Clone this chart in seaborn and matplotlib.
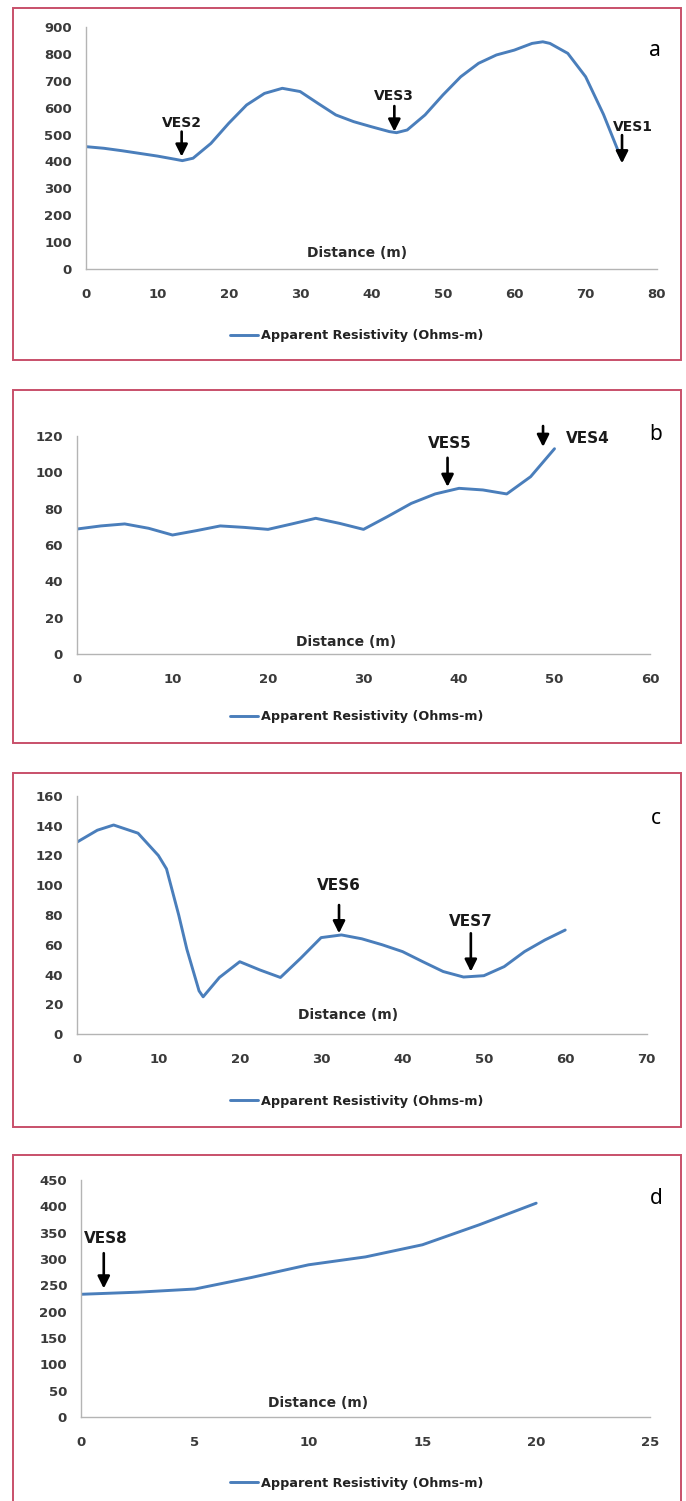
import numpy as np
import pandas as pd
import seaborn as sns
import matplotlib
matplotlib.use("Agg")
import matplotlib.pyplot as plt
from matplotlib.patches import Rectangle

# ---------------- data ----------------
a_dist = [0, 2.5, 5, 7.5, 10, 12.5, 13.5, 15, 17.5, 20, 22.5, 25, 27.5, 30, 32.5, 35, 37.5,
          40, 42.5, 43.5, 45, 47.5, 50, 52.5, 55, 57.5, 60, 62.5, 64, 65, 67.5, 70, 72.5, 75]
a_res = [455, 449, 440, 430, 420, 408, 403, 412, 467, 542, 610, 653, 672, 660, 616, 573, 548,
         529, 511, 507, 517, 573, 647, 715, 765, 796, 814, 839, 845, 839, 802, 715, 575, 410]

b_dist = [0, 2.5, 5, 7.5, 10, 12.5, 15, 17.5, 20, 22.5, 25, 27.5, 30, 32.5, 35, 37.5, 40,
          42.5, 45, 47.5, 50]
b_res = [68.8, 70.5, 71.6, 69.2, 65.5, 67.9, 70.5, 69.7, 68.6, 71.6, 74.7, 71.9, 68.6, 75.6,
         82.9, 88.1, 91.2, 90.3, 88.1, 97.6, 113]

c_dist = [0, 2.5, 4.5, 7.5, 10, 11, 12.5, 13.5, 15, 15.5, 17.5, 20, 22.5, 25, 27.5, 30, 32.5,
          35, 37.5, 40, 42.5, 45, 47.5, 50, 52.5, 55, 57.5, 60]
c_res = [129, 137, 140.5, 135, 120, 111, 80, 57, 29, 25, 38, 48.6, 43, 38, 51, 64.8, 66.6,
         64, 60, 55.4, 48.6, 42, 38.3, 39.2, 45.3, 55.4, 63.2, 69.9]

d_dist = [0, 2.5, 5, 7.5, 10, 12.5, 15, 17.5, 20]
d_res = [233, 237, 243, 265, 289, 304, 327, 365, 406]

x_limits = [80, 60, 70, 25]
x_steps = [10, 10, 10, 5]
y_limits = [900, 120, 160, 450]
y_steps = [100, 20, 20, 50]
panel_letters = ["a", "b", "c", "d"]
series_label = "Apparent Resistivity (Ohms-m)"
x_title = "Distance (m)"

# VES markers: (name, x, arrow tail y, arrow tip y, label x, label y, label align)
ves_a = [("VES2", 13.4, 511, 418, 13.5, 542, "center"),
         ("VES3", 43.2, 606, 511, 43.2, 643, "center"),
         ("VES1", 75.1, 498, 393, 76.6, 529, "center")]
ves_b = [("VES5", 38.8, 108, 92, 39.0, 116, "center"),
         ("VES4", 48.8, 125.5, 114, 51.2, 118.7, "left")]
ves_c = [("VES6", 32.2, 86.7, 67.7, 32.2, 100, "center"),
         ("VES7", 48.4, 67.7, 41.9, 48.4, 75.5, "center")]
ves_d = [("VES8", 1.0, 311, 244, 0.15, 339, "left")]

# ---------------- style ----------------
sns.set_theme(style="white")
plt.rcParams["font.family"] = ["DejaVu Sans"]

W, H = 686, 1501
fig = plt.figure(figsize=(W / 100, H / 100), dpi=100)
fig.patch.set_facecolor("white")

def fx(px):
    return px / W

def fy(py):
    return 1 - py / H

# axes boxes in pixels: left, right, top (ymax), bottom (y=0)
boxes = [(86, 657, 27, 269), (77, 650, 436, 654), (77, 646.6, 796, 1034), (81, 650, 1180, 1417)]
frames = [(13, 681, 8, 360), (13, 681, 390, 743), (13, 681, 773, 1127), (13, 681, 1155, 1510)]
legend_y = [336, 717, 1101, 1483]
letter_pos = [(655, 50), (656, 434), (656, 818), (656, 1198)]
xlabel_pos = [(0.474, 0.066), (0.470, 0.055), (0.476, 0.08), (0.417, 0.059)]

datasets = [(a_dist, a_res, ves_a), (b_dist, b_res, ves_b),
            (c_dist, c_res, ves_c), (d_dist, d_res, ves_d)]

line_color = "#4a7ebb"
axis_color = "#b4b4b4"
tick_color = "#3a3a3a"
frame_color = "#c8506a"

for i, (dist, res, ves) in enumerate(datasets):
    l, r, t, b = boxes[i]
    ax = fig.add_axes([fx(l), fy(b), fx(r - l), (b - t) / H])
    df = pd.DataFrame({"Distance": dist, "Resistivity": res})
    sns.lineplot(data=df, x="Distance", y="Resistivity", ax=ax, color=line_color,
                 linewidth=2.1, label=series_label, sort=False,
                 solid_joinstyle="round", solid_capstyle="round")
    ax.set_xlim(0, x_limits[i])
    ax.set_ylim(0, y_limits[i])
    ax.set_xticks(np.arange(0, x_limits[i] + 0.1, x_steps[i]))
    ax.set_yticks(np.arange(0, y_limits[i] + 0.1, y_steps[i]))
    ax.set_xlabel("")
    ax.set_ylabel("")
    for s in ["top", "right"]:
        ax.spines[s].set_visible(False)
    for s in ["left", "bottom"]:
        ax.spines[s].set_color(axis_color)
        ax.spines[s].set_linewidth(1.0)
    ax.tick_params(axis="both", length=0, labelsize=9.5, labelcolor=tick_color)
    ax.tick_params(axis="x", pad=14)
    ax.tick_params(axis="y", pad=10)
    for lab in ax.get_xticklabels() + ax.get_yticklabels():
        lab.set_fontweight("bold")
    ax.set_facecolor("white")

    ax.text(xlabel_pos[i][0], xlabel_pos[i][1], x_title, transform=ax.transAxes,
            ha="center", va="center", fontsize=10, fontweight="bold", color="#2a2a2a")

    for name, xv, tail, tip, lx, ly, al in ves:
        ax.annotate("", xy=(xv, tip), xytext=(xv, tail),
                    arrowprops=dict(arrowstyle="-|>,head_width=0.3,head_length=0.6",
                                    color="black", lw=1.9, shrinkA=0, shrinkB=0),
                    annotation_clip=False)
        ax.text(lx, ly, name, ha=al, va="center", fontsize=10 if i == 0 else 11,
                fontweight="bold", color="#1a1a1a", clip_on=False)

    leg = ax.legend(loc="center", bbox_to_anchor=(fx(357), fy(legend_y[i])),
                    bbox_transform=fig.transFigure, frameon=False, handlelength=2.2,
                    handletextpad=0.25, prop=dict(weight="bold", size=9.2))
    for txt in leg.get_texts():
        txt.set_color("#222222")

    fig.text(fx(letter_pos[i][0]), fy(letter_pos[i][1]), panel_letters[i],
             ha="center", va="center", fontsize=15, family=["Noto Sans", "DejaVu Sans"],
             color="black")

    x0, x1, y0, y1 = frames[i]
    fig.patches.append(Rectangle((fx(x0), fy(y1)), fx(x1 - x0), (y1 - y0) / H,
                                 transform=fig.transFigure, fill=False,
                                 edgecolor=frame_color, linewidth=1.4, zorder=0))

fig.savefig("out.png", dpi=100, facecolor="white")
